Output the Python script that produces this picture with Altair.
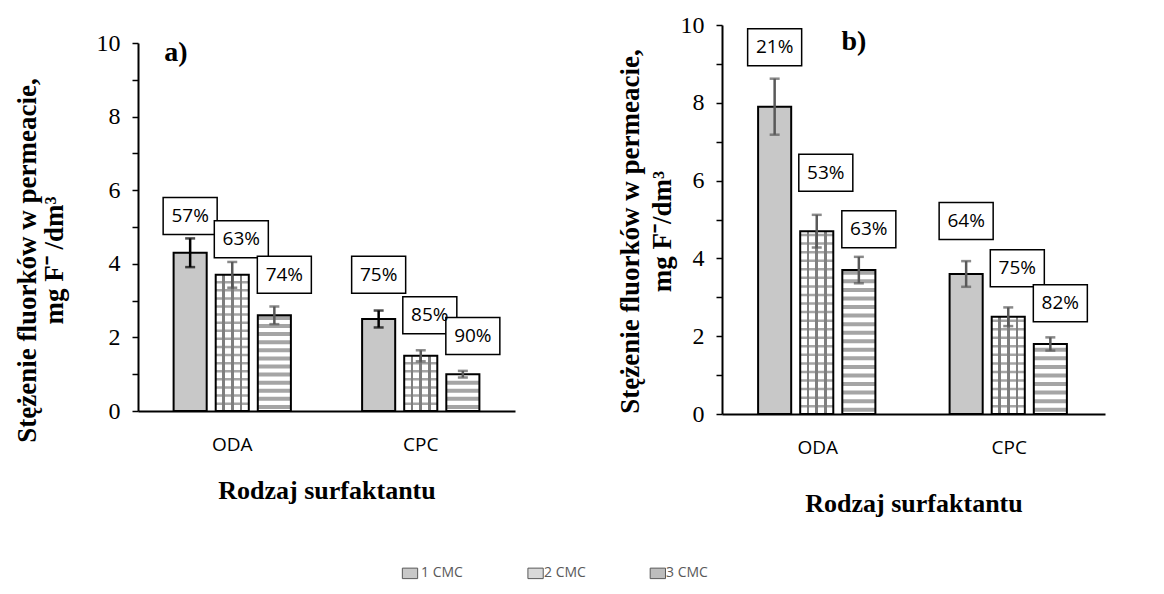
import altair as alt
import pandas as pd

surfactants = ["ODA", "CPC"]
series = ["1 CMC", "2 CMC", "3 CMC"]

# panel a) values in order ODA(1,2,3 CMC), CPC(1,2,3 CMC)
a_values = [4.3, 3.7, 2.6, 2.5, 1.5, 1.0]
a_errors = [0.39, 0.35, 0.24, 0.23, 0.15, 0.09]
a_labels = ["57%", "63%", "74%", "75%", "85%", "90%"]
a_label_y = [5.3, 4.67, 3.7, 3.7, 2.6, 2.04]

# panel b)
b_values = [7.9, 4.7, 3.7, 3.6, 2.5, 1.8]
b_errors = [0.72, 0.42, 0.34, 0.33, 0.24, 0.17]
b_labels = ["21%", "53%", "63%", "64%", "75%", "82%"]
b_label_y = [9.43, 6.2, 4.75, 4.96, 3.75, 2.85]

SERIF = "Liberation Serif"
SANS = "Open Sans"
GREY = "#7f7f7f"

grid_gradient = {
    "gradient": "linear", "x1": 0, "y1": 0, "x2": 1, "y2": 0,
    "stops": [
        {"offset": 0.0, "color": "white"}, {"offset": 0.2, "color": "white"},
        {"offset": 0.2, "color": GREY}, {"offset": 0.28, "color": GREY},
        {"offset": 0.28, "color": "white"}, {"offset": 0.46, "color": "white"},
        {"offset": 0.46, "color": GREY}, {"offset": 0.54, "color": GREY},
        {"offset": 0.54, "color": "white"}, {"offset": 0.72, "color": "white"},
        {"offset": 0.72, "color": GREY}, {"offset": 0.8, "color": GREY},
        {"offset": 0.8, "color": "white"}, {"offset": 1.0, "color": "white"},
    ],
}

box_paths = [
    "M-1.46,-1H1.46V1H-1.46Z",
    "M-0.97,-1H1.95V1H-0.97Z",
    "M-0.92,-1H2.0V1H-0.92Z",
]
label_dx = [0, 9, 10]


def panel(values, errors, labels, label_y, tag, tag_x, tag_y, width, height, top,
          err_color, ytitle, yt_pad, yt_lh, yt_y, xt_pad, bar_w):
    df = pd.DataFrame({
        "surf": [s for s in surfactants for _ in series],
        "series": series * 2,
        "value": values,
        "err": errors,
        "label": labels,
        "ly": label_y,
    })
    df["lo"] = df["value"] - df["err"]
    df["hi"] = df["value"] + df["err"]

    yscale = alt.Scale(domain=[0, 10], nice=False, range=[height, top])
    xaxis = alt.Axis(
        title="Rodzaj surfaktantu", labelAngle=0, labelFont=SANS, labelFontSize=19,
        labelColor="black", labelPadding=24, ticks=False, domainColor="black",
        domainWidth=2, titleFont=SERIF, titleFontSize=26, titleFontWeight="bold",
        titleColor="black", titlePadding=xt_pad,
    )
    yaxis = alt.Axis(
        values=list(range(11)),
        labelExpr="datum.value % 2 === 0 ? datum.label : ''",
        grid=False, tickColor="black", tickSize=6, tickWidth=1.5,
        domainColor="black", domainWidth=2, labelFont=SERIF, labelFontSize=24,
        labelColor="black", labelPadding=12, title=ytitle, titleFont=SERIF,
        titleFontSize=27, titleFontWeight="bold", titleColor="black",
        titleLineHeight=yt_lh, titlePadding=yt_pad, titleY=yt_y,
    )

    def Y(field):
        return alt.Y(field, scale=yscale, axis=yaxis)

    base = alt.Chart(df).encode(
        x=alt.X("surf:N", sort=surfactants,
                scale=alt.Scale(domain=surfactants, paddingInner=0.33, paddingOuter=0.165),
                axis=xaxis),
        xOffset=alt.XOffset("series:N",
                            scale=alt.Scale(domain=series, paddingInner=0.214, paddingOuter=0.107)),
    )

    bars = base.mark_bar().encode(
        y=Y("value:Q"),
        fill=alt.Fill("series:N", scale=alt.Scale(domain=series,
                      range=["#c8c8c8", "#d9d9d9", "#bdbdbd"]),
                      legend=alt.Legend(
                          title=None, orient="none", legendX=265, legendY=541,
                          direction="horizontal", symbolType="square", symbolSize=110,
                          symbolStrokeColor="#595959", symbolStrokeWidth=1,
                          labelFont=SANS, labelFontSize=14, labelColor="#595959",
                          columnPadding=62, labelOffset=4, padding=0)),
    )
    grid_bars = base.mark_bar(fill=grid_gradient).encode(
        y=Y("value:Q")
    ).transform_filter(alt.datum.series == "2 CMC")
    stripe_bg = base.mark_bar(fill="white").encode(
        y=Y("value:Q")
    ).transform_filter(alt.datum.series == "3 CMC")
    grid_h = base.mark_tick(orient="horizontal", size=bar_w, thickness=2.5, color=GREY).encode(
        y=Y("lv:Q")
    ).transform_filter(alt.datum.series == "2 CMC").transform_calculate(
        lv="sequence(0.2, datum.value - 0.05, 0.22)"
    ).transform_flatten(["lv"])
    stripes = base.mark_tick(orient="horizontal", size=bar_w, thickness=4, color=GREY).encode(
        y=Y("lv:Q")
    ).transform_filter(alt.datum.series == "3 CMC").transform_calculate(
        lv="sequence(0.11, datum.value - 0.06, 0.22)"
    ).transform_flatten(["lv"])
    outline = base.mark_bar(fill="white", fillOpacity=0, stroke="black", strokeWidth=2).encode(
        y=Y("value:Q")
    )
    err_rule = base.mark_rule(strokeWidth=2.5).encode(
        y=Y("lo:Q"), y2="hi:Q", color=err_color
    )
    cap_lo = base.mark_tick(orient="horizontal", size=10, thickness=2.5).encode(
        y=Y("lo:Q"), color=err_color
    )
    cap_hi = base.mark_tick(orient="horizontal", size=10, thickness=2.5).encode(
        y=Y("hi:Q"), color=err_color
    )
    boxes = base.mark_point(filled=True, fill="white", stroke="black", strokeWidth=1.5,
                            size=1369, opacity=1).encode(
        y=Y("ly:Q"),
        shape=alt.Shape("series:N", scale=alt.Scale(domain=series, range=box_paths), legend=None),
    )
    texts = [
        base.mark_text(font=SANS, fontSize=19, color="black", baseline="middle",
                       dx=label_dx[i]).encode(
            y=Y("ly:Q"), text="label:N"
        ).transform_filter(alt.datum.series == s)
        for i, s in enumerate(series)
    ]
    tag_txt = alt.Chart(pd.DataFrame({"t": [tag]})).mark_text(
        font=SERIF, fontSize=28, fontWeight="bold", color="black", baseline="middle"
    ).encode(text="t:N", x=alt.value(tag_x), y=alt.value(tag_y))

    return alt.layer(bars, grid_bars, stripe_bg, grid_h, stripes, outline,
                     err_rule, cap_lo, cap_hi, boxes, *texts, tag_txt).properties(
        width=width, height=height)


left = panel(a_values, a_errors, a_labels, a_label_y, "a)", 38, 28, 377, 386, 18,
             alt.condition(alt.datum.series == "1 CMC", alt.value("black"), alt.value("#595959")),
             ["Stężenie fluorków w  permeacie,", "mg  F⁻ /dm³"], 28, 27, 235, 23, 33.1)

right = panel(b_values, b_errors, b_labels, b_label_y, "b)", 132, 17, 383, 389, 0,
              alt.value("#595959"),
              ["Stężenie fluorków w permeacie,", "mg F⁻/dm³"], 4, 32, 206, 33, 33.8)

chart = alt.hconcat(left, right, spacing=101).configure_view(stroke=None)

chart.save("out.html", embed_options={"renderer": "svg", "actions": False})
